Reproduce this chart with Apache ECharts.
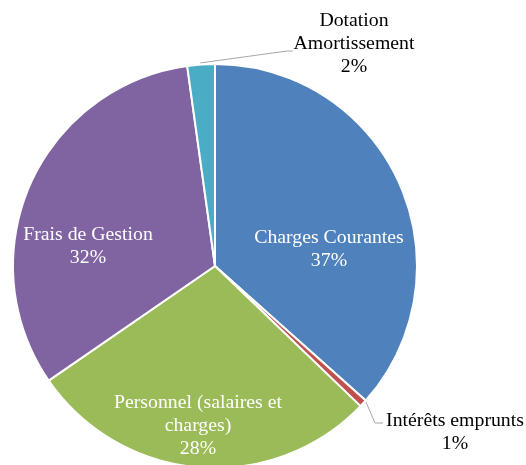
<!DOCTYPE html>
<html>
<head>
<meta charset="utf-8">
<script src="https://cdn.jsdelivr.net/npm/echarts@6/dist/echarts.min.js"></script>
<style>
  html, body { margin: 0; padding: 0; background: #ffffff; }
  #chart { width: 526px; height: 465px; }
</style>
</head>
<body>
<div id="chart"></div>
<script>
// Data
var categories = [
  'Charges Courantes',
  'Intérêts emprunts',
  'Personnel (salaires et\ncharges)',
  'Frais de Gestion',
  'Dotation\nAmortissement'
];
var values = [36.6, 0.6, 28.2, 32.4, 2.2];
var colors = ['#4F81BD', '#C0504D', '#9BBB59', '#8064A2', '#4BACC6'];

// Layout (label offsets from the pie centre)
var cx = 215, cy = 266, radius = 202;
var labelOffsets = [
  [114, -17],   // Charges Courantes
  [240, 166],   // Intérêts emprunts
  [-17, 160],   // Personnel
  [-127, -20],  // Frais de Gestion
  [139, -222]   // Dotation Amortissement
];
var insideIdx = [0, 2, 3];

var chart = echarts.init(document.getElementById('chart'), null, { renderer: 'canvas' });

var data = categories.map(function (name, i) {
  var inside = insideIdx.indexOf(i) >= 0;
  return {
    name: name,
    value: values[i],
    itemStyle: { color: colors[i] },
    label: {
      show: true,
      position: inside ? 'inside' : 'outside',
      color: inside ? '#ffffff' : '#000000'
    },
    labelLine: { show: !inside }
  };
});

chart.setOption({
  backgroundColor: '#ffffff',
  animation: false,
  series: [{
    type: 'pie',
    center: [cx, cy],
    radius: radius,
    startAngle: 90,
    clockwise: true,
    percentPrecision: 0,
    avoidLabelOverlap: false,
    data: data,
    itemStyle: { borderColor: '#ffffff', borderWidth: 2 },
    label: {
      formatter: '{b}\n{d}%',
      fontFamily: 'Liberation Serif',
      fontSize: 19.8,
      lineHeight: 23,
      align: 'center',
      overflow: 'none',
      alignTo: 'none'
    },
    labelLine: {
      lineStyle: { color: '#A6A6A6', width: 1 }
    },
    labelLayout: function (params) {
      var i = params.dataIndex;
      var o = labelOffsets[i];
      var res = {
        x: cx + o[0],
        y: cy + o[1],
        align: 'center',
        verticalAlign: 'middle',
        width: 200
      };
      if (i === 1) {
        res.labelLinePoints = [[cx + 151, cy + 136], [cx + 160, cy + 157], [cx + 168, cy + 157]];
      } else if (i === 4) {
        res.labelLinePoints = [[cx - 15, cy - 203], [cx + 72, cy - 215], [cx + 78, cy - 215]];
      }
      return res;
    }
  }]
});
</script>
</body>
</html>
